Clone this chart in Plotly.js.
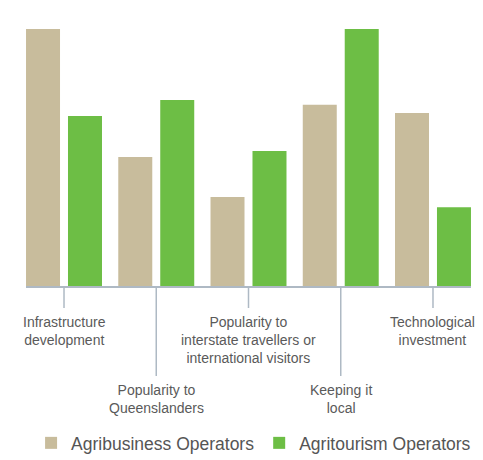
<!DOCTYPE html>
<html>
<head>
<meta charset="utf-8">
<script src="https://cdn.plot.ly/plotly-3.0.1.min.js"></script>
<style>html,body{margin:0;padding:0;background:#fff;}#chart{width:483px;height:460px;}</style>
</head>
<body>
<div id="chart"></div>
<script>
var categories = ["Infrastructure<br>development", "Popularity to<br>Queenslanders", "Popularity to<br>interstate travellers or<br>international visitors", "Keeping it<br>local", "Technological<br>investment"];
var seriesNames = ["Agribusiness Operators", "Agritourism Operators"];
var agribusiness = [60, 30.1, 20.8, 42.3, 40.4];
var agritourism = [39.7, 43.4, 31.5, 60, 18.4];

var xs = categories.map(function(c, i){ return i; });

var traces = [
  {type:'bar', name:seriesNames[0], x:xs, y:agribusiness, marker:{color:'#C8BC9C'}, hoverinfo:'none'},
  {type:'bar', name:seriesNames[1], x:xs, y:agritourism, marker:{color:'#6DBE45'}, hoverinfo:'none'}
];
var labelFont = {family:'"Liberation Sans Narrow", "Liberation Sans", Arial, sans-serif', size:14, color:'#5a5a5a'};
var axisColor = '#AEB9C4';
var xr = [-0.412, 4.412];

var shapes = [], annotations = [];
xs.forEach(function(x, i){
  var len = (i % 2 === 1) ? 90 : 22;
  shapes.push({type:'line', xref:'x', yref:'paper', x0:x, x1:x, ysizemode:'pixel', yanchor:0, y0:0, y1:-len,
               line:{color:axisColor, width:1.5}});
  annotations.push({xref:'x', yref:'y', x:x, y:0, yanchor:'top', xanchor:'center', yshift:-(len+4),
                    text:categories[i], showarrow:false, font:labelFont, align:'center'});
});

var layout = {
  width:483, height:460,
  margin:{l:26, r:12, t:29, b:174},
  paper_bgcolor:'#fff', plot_bgcolor:'#fff',
  barmode:'group', bargap:0.09, bargroupgap:0.19,
  showlegend:true,
  legend:{orientation:'h', x:0.525, xanchor:'center', xref:'container', yref:'container', y:0.037, yanchor:'middle', itemwidth:30,
          tracegroupgap:0, font:{family:'"Liberation Sans", Arial, sans-serif', size:17.5, color:'#555'}, itemclick:false},
  xaxis:{type:'linear', range:xr, showgrid:false, zeroline:false, showline:true, linecolor:axisColor, linewidth:1.5,
         ticks:'', showticklabels:false, fixedrange:true},
  yaxis:{range:[0,60], visible:false, fixedrange:true},
  shapes:shapes,
  annotations:annotations
};
Plotly.newPlot('chart', traces, layout, {displayModeBar:false, staticPlot:true});
</script>
</body>
</html>
